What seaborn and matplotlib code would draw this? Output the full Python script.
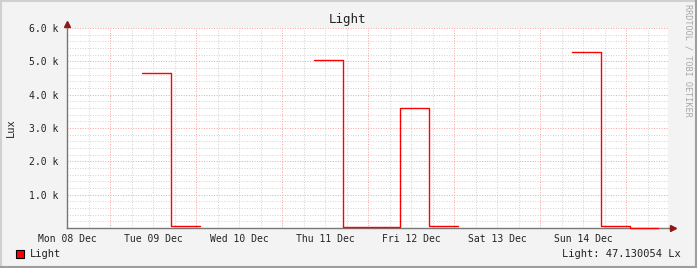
import numpy as np
import pandas as pd
import matplotlib
matplotlib.use("Agg")
import matplotlib.pyplot as plt
import seaborn as sns
from matplotlib.patches import Rectangle
from matplotlib.lines import Line2D

# ---- data ----
bin_start_hours = [21, 29, 37, 45, 53, 61, 69, 77, 85, 93, 101, 109, 117, 125, 133, 141, 149, 157]
bin_width_hours = 8
lux_values = [4650, 55, np.nan, np.nan, np.nan, np.nan, 5030, 25, 25, 3590, 55,
              np.nan, np.nan, np.nan, np.nan, 5270, 55, 15]
day_tick_hours = [0, 24, 48, 72, 96, 120, 144]
day_labels = ["Mon 08 Dec", "Tue 09 Dec", "Wed 10 Dec", "Thu 11 Dec",
              "Fri 12 Dec", "Sat 13 Dec", "Sun 14 Dec"]
y_tick_values = [1000, 2000, 3000, 4000, 5000, 6000]
y_tick_labels = ["1.0 k", "2.0 k", "3.0 k", "4.0 k", "5.0 k", "6.0 k"]
series_name = "Light"
legend_value_text = "Light: 47.130054 Lx"

# build contiguous step segments (gaps where value is missing)
rows = []
seg = 0
prev_ok = False
for i, (h, v) in enumerate(zip(bin_start_hours, lux_values)):
    ok = not np.isnan(v)
    if ok:
        if not prev_ok:
            seg += 1
        rows.append((seg, h, v))
        nxt_ok = i + 1 < len(lux_values) and not np.isnan(lux_values[i + 1])
        if not nxt_ok:
            rows.append((seg, h + bin_width_hours, v))
    prev_ok = ok
df = pd.DataFrame(rows, columns=["segment", "hour", "lux"])

sns.set_theme(style="white")
plt.rcParams["font.family"] = ["DejaVu Sans Mono", "DejaVu Sans"]

W, H = 697, 268
fig = plt.figure(figsize=(W / 100, H / 100), dpi=100, facecolor="#F3F3F3")
x0, x1, y0, y1 = 67, 668, 28, 228
ax = fig.add_axes([x0 / W, 1 - y1 / H, (x1 - x0) / W, (y1 - y0) / H])
ax.set_facecolor("white")

# grids
minor_x = [h for h in range(0, 169, 6) if (h - 12) % 24 != 0]
major_x = [h for h in range(12, 169, 24)]
for h in minor_x:
    ax.axvline(h, color="#D2D2D2", lw=0.7, ls=(0, (1, 1.6)), zorder=0)
for h in major_x:
    ax.axvline(h, color="#F4A0A0", lw=0.7, ls=(0, (1, 1.6)), zorder=0.5)
for v in range(200, 6001, 200):
    if v % 1000:
        ax.axhline(v, color="#D2D2D2", lw=0.7, ls=(0, (1, 1.6)), zorder=0)
    else:
        ax.axhline(v, color="#F4A0A0", lw=0.7, ls=(0, (1, 1.6)), zorder=0.5)

sns.lineplot(data=df, x="hour", y="lux", units="segment", estimator=None,
             color="#FF0000", lw=1.0, drawstyle="steps-post", ax=ax, legend=False,
             zorder=3)
for ln in ax.lines[-3:]:
    ln.set_clip_on(False)

ax.set_xlim(0, 167.7)
ax.set_ylim(0, 6000)
ax.set_xticks(day_tick_hours)
ax.set_xticklabels(day_labels)
ax.set_yticks(y_tick_values)
ax.set_yticklabels(y_tick_labels)
ax.set_xlabel("")
ax.set_ylabel("")
ax.tick_params(axis="both", labelsize=7, colors="#777777", labelcolor="#222222",
               length=3, direction="inout", width=0.8)
ax.tick_params(axis="x", pad=3)
ax.tick_params(axis="y", pad=5)
for s in ["top", "right"]:
    ax.spines[s].set_visible(False)
for s in ["left", "bottom"]:
    ax.spines[s].set_color("#777777")
    ax.spines[s].set_linewidth(1.0)
    ax.spines[s].set_zorder(2)

# axis arrows
ax.plot([1, 1.008], [0, 0], transform=ax.transAxes, color="#777777", lw=1, clip_on=False)
ax.plot([1.008], [0], marker=">", ms=4, color="#8B1A1A", transform=ax.transAxes, clip_on=False)
ax.plot([0, 0], [1, 1.02], transform=ax.transAxes, color="#777777", lw=1, clip_on=False)
ax.plot([0], [1.02], marker="^", ms=4, color="#8B1A1A", transform=ax.transAxes, clip_on=False)

# texts
fig.text(348 / W, 1 - 19 / H, series_name, ha="center", va="center", fontsize=9, color="#222222")
fig.text(11 / W, 1 - 128 / H, "Lux", ha="center", va="center", rotation=90, fontsize=7.5, color="#222222")
fig.text(688 / W, 1 - 4 / H, "RRDTOOL / TOBI OETIKER", ha="center", va="top", rotation=270,
         fontsize=6.1, color="#A8A8A8")
fig.patches.append(Rectangle((16 / W, 1 - 258 / H), 8 / W, 8 / H, transform=fig.transFigure,
                             facecolor="#FF0000", edgecolor="black", lw=0.8))
fig.text(30 / W, 1 - 254 / H, series_name, ha="left", va="center", fontsize=7.5, color="#222222")
fig.text(681 / W, 1 - 254 / H, legend_value_text, ha="right", va="center", fontsize=7.5, color="#222222")

# 3D border
fig.add_artist(Line2D([0.5 / W, 0.5 / W], [0, 1], transform=fig.transFigure, color="#D0D0D0", lw=1.5))
fig.add_artist(Line2D([0, 1], [1 - 0.5 / H, 1 - 0.5 / H], transform=fig.transFigure, color="#D0D0D0", lw=1.5))
fig.add_artist(Line2D([1 - 1 / W, 1 - 1 / W], [0, 1], transform=fig.transFigure, color="#9E9E9E", lw=1.5))
fig.add_artist(Line2D([0, 1], [1 / H, 1 / H], transform=fig.transFigure, color="#9E9E9E", lw=1.5))

fig.savefig("out.png", dpi=100, facecolor=fig.get_facecolor())
